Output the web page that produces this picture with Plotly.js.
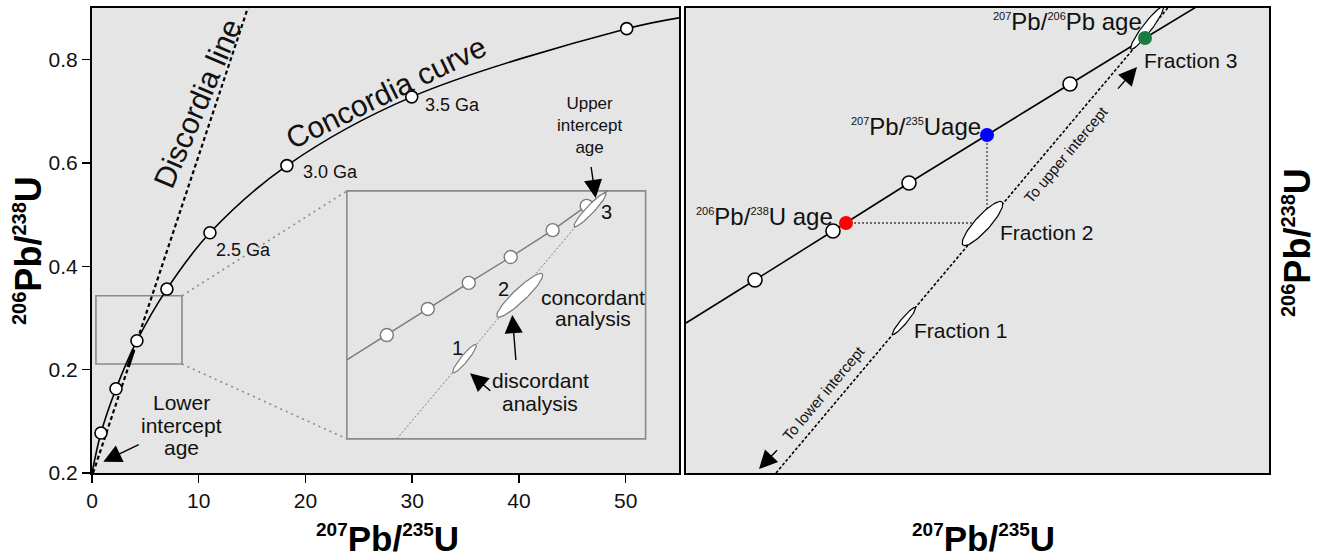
<!DOCTYPE html>
<html><head><meta charset="utf-8">
<script src="https://cdn.plot.ly/plotly-3.0.1.min.js"></script>
<style>html,body{margin:0;padding:0;background:#fff}#chart{width:1319px;height:560px}</style>
</head><body><div id="chart"></div>
<script>
// ================= DATA: left panel (207Pb/235U vs 206Pb/238U) =================
const concordiaX = [0, 0.84, 2.25, 4.21, 7.02, 11.05, 18.26, 29.96, 50.1, 55.0];
const concordiaY = [0, 0.0775, 0.163, 0.256, 0.356, 0.465, 0.595, 0.728, 0.860, 0.881];
const ageMarkX = [0.84, 2.25, 4.21, 7.02, 11.05, 18.26, 29.96, 50.1];
const ageMarkY = [0.0775, 0.163, 0.256, 0.356, 0.465, 0.595, 0.728, 0.860];
const ageLabels = ['2.5 Ga', '3.0 Ga', '3.5 Ga'];
const ageLabelX = [14.2, 22.3, 33.8];
const ageLabelY = [0.432, 0.583, 0.712];
const discordiaX = [0.1, 14.6];
const discordiaY = [0, 0.9];
const smallFracX = [3.38, 3.9];
const smallFracY = [0.205, 0.238];
const smallBoxX = [0.37, 8.43];
const smallBoxY = [0.211, 0.343];
const insetBoxX = [23.88, 51.87];
const insetBoxY = [0.066, 0.546];
const insetConcX = [23.88, 27.62, 31.46, 35.30, 39.23, 43.16, 46.35, 48.31];
const insetConcY = [0.219, 0.267, 0.3175, 0.368, 0.418, 0.470, 0.517, 0.546];
const insetMarkX = [27.62, 31.46, 35.30, 39.23, 43.16, 46.35];
const insetMarkY = [0.267, 0.3175, 0.368, 0.418, 0.470, 0.517];
const insetDiscX = [28.56, 48.13];
const insetDiscY = [0.066, 0.546];
const insetEllX1 = [33.82, 37.97, 45.19];
const insetEllY1 = [0.1942, 0.3026, 0.4769];
const insetEllX2 = [35.98, 42.19, 48.13];
const insetEllY2 = [0.2484, 0.3853, 0.5415];
const insetEllLabels = ['1', '2', '3'];
const insetEllLabelX = [34.29, 38.54, 48.22];
const insetEllLabelY = [0.242, 0.357, 0.5045];
const xTickVals = [0, 10, 20, 30, 40, 50];
const xTickText = ['0', '10', '20', '30', '40', '50'];
const yTickVals = [0, 0.2, 0.4, 0.6, 0.8];
const yTickText = ['0.2', '0.2', '0.4', '0.6', '0.8'];

// ================= DATA: right panel (schematic, arbitrary units) =================
const rConcX = [0, 69, 147, 223, 301, 384, 459, 525];
const rConcY = [150, 193, 242, 290, 338, 389, 435, 475];
const rMarkX = [69, 147, 223, 384];
const rMarkY = [193, 242, 290, 389];
const rAgeX = [160, 301, 459];      // 206/238 age, 207/235 age, 207/206 age
const rAgeY = [250, 338, 435];
const rDiscX = [90, 486];
const rDiscY = [0, 470];
const rEllX1 = [206.7, 277, 445];
const rEllY1 = [138.6, 228, 424];
const rEllX2 = [229.3, 316, 477];
const rEllY2 = [165.4, 271, 466];
const rFracLabels = ['Fraction 1', 'Fraction 2', 'Fraction 3'];
const rFracLabelX = [226, 312, 456];
const rFracLabelY = [143, 240, 412];

// ================= layout geometry / styles =================
const W = 1319, H = 560;
const LX0 = 92, LX1 = 679, RX0 = 686, RX1 = 1269, YT = 8, YB = 473;
const LXR = [0, 55], LYR = [0, 0.9], RXR = [0, 583], RYR = [0, 465];
const lkx = (LX1 - LX0) / (LXR[1] - LXR[0]), lky = (YB - YT) / (LYR[1] - LYR[0]);
const rkx = (RX1 - RX0) / (RXR[1] - RXR[0]), rky = (YB - YT) / (RYR[1] - RYR[0]);
const FONT = 'Liberation Sans, Arial, Helvetica, sans-serif';
const TXT = '#111111';
const BG = '#e5e5e5';
const GRAY = '#8a8a8a';
const insetEllW = [7, 13, 8];
const rEllW = [6, 15, 9];
const rAgeColors = ['#ff0000', '#0000ff', '#1b7a3e'];

function ellipse(x1, y1, x2, y2, wpx, kx, ky, xa, ya, col) {
  const X1 = x1 * kx, Y1 = y1 * ky, X2 = x2 * kx, Y2 = y2 * ky;
  const cx = (X1 + X2) / 2, cy = (Y1 + Y2) / 2;
  const a = Math.hypot(X2 - X1, Y2 - Y1) / 2, b = wpx / 2, th = Math.atan2(Y2 - Y1, X2 - X1);
  const xs = [], ys = [];
  for (let i = 0; i <= 80; i++) {
    const t = i / 80 * 2 * Math.PI, ex = a * Math.cos(t), ey = b * Math.sin(t);
    xs.push((cx + ex * Math.cos(th) - ey * Math.sin(th)) / kx);
    ys.push((cy + ex * Math.sin(th) + ey * Math.cos(th)) / ky);
  }
  return {type: 'scatter', mode: 'lines', x: xs, y: ys, xaxis: xa, yaxis: ya, fill: 'toself',
    fillcolor: '#ffffff', line: {color: col, width: 1.2}, hoverinfo: 'skip', showlegend: false};
}
function sup(t, px) { return '<sup><span style="font-size:' + px + 'px">' + t + '</span></sup>'; }

const traces = [];
// ---- left ----
traces.push({x: concordiaX, y: concordiaY, mode: 'lines', line: {color: '#000', width: 1.6, shape: 'spline'}, xaxis: 'x', yaxis: 'y'});
traces.push({x: discordiaX, y: discordiaY, mode: 'lines', line: {color: '#000', width: 2.2, dash: '4px,3px'}, xaxis: 'x', yaxis: 'y'});
traces.push({x: smallFracX, y: smallFracY, mode: 'lines', line: {color: '#000', width: 3.5}, xaxis: 'x', yaxis: 'y'});
traces.push({x: [smallBoxX[1], insetBoxX[0], null, smallBoxX[1], insetBoxX[0]],
             y: [smallBoxY[1], insetBoxY[1], null, smallBoxY[0], insetBoxY[0]],
             mode: 'lines', line: {color: GRAY, width: 1.6, dash: '2px,4px'}, xaxis: 'x', yaxis: 'y'});
traces.push({x: insetConcX, y: insetConcY, mode: 'lines', line: {color: '#7a7a7a', width: 1.4}, xaxis: 'x', yaxis: 'y'});
traces.push({x: insetDiscX, y: insetDiscY, mode: 'lines', line: {color: '#7a7a7a', width: 1, dash: '2px,2px'}, xaxis: 'x', yaxis: 'y'});
traces.push({x: insetMarkX, y: insetMarkY, mode: 'markers', marker: {size: 13, color: '#fff', line: {color: '#7a7a7a', width: 1.4}}, xaxis: 'x', yaxis: 'y'});
for (let i = 0; i < insetEllX1.length; i++)
  traces.push(ellipse(insetEllX1[i], insetEllY1[i], insetEllX2[i], insetEllY2[i], insetEllW[i], lkx, lky, 'x', 'y', '#7a7a7a'));
traces.push({x: ageMarkX, y: ageMarkY, mode: 'markers', marker: {size: 12, color: '#fff', line: {color: '#000', width: 1.6}}, xaxis: 'x', yaxis: 'y', cliponaxis: false});
// ---- right ----
traces.push({x: rConcX, y: rConcY, mode: 'lines', line: {color: '#000', width: 1.6, shape: 'spline'}, xaxis: 'x2', yaxis: 'y2'});
traces.push({x: rDiscX, y: rDiscY, mode: 'lines', line: {color: '#000', width: 1.6, dash: '3px,2px'}, xaxis: 'x2', yaxis: 'y2'});
traces.push({x: [rAgeX[0], rAgeX[1], null, rAgeX[1], rAgeX[1]], y: [rAgeY[0], rAgeY[0], null, rAgeY[1], rAgeY[0]],
             mode: 'lines', line: {color: '#444', width: 1.3, dash: '2px,2px'}, xaxis: 'x2', yaxis: 'y2'});
for (let i = 0; i < rEllX1.length; i++)
  traces.push(ellipse(rEllX1[i], rEllY1[i], rEllX2[i], rEllY2[i], rEllW[i], rkx, rky, 'x2', 'y2', '#000'));
traces.push({x: rMarkX, y: rMarkY, mode: 'markers', marker: {size: 14, color: '#fff', line: {color: '#000', width: 1.6}}, xaxis: 'x2', yaxis: 'y2'});
traces.push({x: rAgeX, y: rAgeY, mode: 'markers', marker: {size: 14, color: rAgeColors, line: {color: rAgeColors, width: 0}}, xaxis: 'x2', yaxis: 'y2'});
traces.forEach(t => { t.type = 'scatter'; t.showlegend = false; t.hoverinfo = 'skip'; });

const ann = [];
function txt(xr, yr, x, y, text, size, opts) {
  ann.push(Object.assign({xref: xr, yref: yr, x: x, y: y, text: text, showarrow: false,
    font: {family: FONT, size: size, color: TXT}, xanchor: 'center', yanchor: 'middle'}, opts || {}));
}
function arrow(xr, yr, hx, hy, tx, ty) {
  ann.push({xref: xr, yref: yr, axref: xr, ayref: yr, x: hx, y: hy, ax: tx, ay: ty, text: ' ',
    showarrow: true, arrowhead: 2, arrowsize: 2.6, arrowwidth: 1.4, arrowcolor: '#000', standoff: 0});
}
// left texts
txt('x', 'y', 27.55, 0.7355, 'Concordia curve', 30, {textangle: -26});
txt('x', 'y', 9.85, 0.716, 'Discordia line', 30, {textangle: -67});
for (let i = 0; i < ageLabels.length; i++) txt('x', 'y', ageLabelX[i], ageLabelY[i], ageLabels[i], 18);
txt('x', 'y', 46.66, 0.6735, 'Upper<br>intercept<br>age', 17);
arrow('x', 'y', 47.19, 0.5323, 46.63, 0.6116);
txt('x', 'y', 8.43, 0.1374, 'Lower', 21);
txt('x', 'y', 8.43, 0.0929, 'intercept', 21);
txt('x', 'y', 8.43, 0.0484, 'age', 21);
arrow('x', 'y', 1.06, 0.0219, 4.655, 0.0575);
for (let i = 0; i < insetEllLabels.length; i++) txt('x', 'y', insetEllLabelX[i], insetEllLabelY[i], insetEllLabels[i], 20);
txt('x', 'y', 46.9, 0.3406, 'concordant', 21);
txt('x', 'y', 46.9, 0.2994, 'analysis', 21);
arrow('x', 'y', 39.38, 0.3058, 39.79, 0.1994);
txt('x', 'y', 42.02, 0.18, 'discordant', 21);
txt('x', 'y', 42.02, 0.1349, 'analysis', 21);
arrow('x', 'y', 35.42, 0.193, 37.6, 0.1543);
// right texts
txt('x2', 'y2', 149, 256, sup('206', 11) + 'Pb/' + sup('238', 11) + 'U age', 24, {xanchor: 'right'});
txt('x2', 'y2', 297, 346, sup('207', 11) + 'Pb/' + sup('235', 11) + 'Uage', 24, {xanchor: 'right'});
txt('x2', 'y2', 458, 451, sup('207', 11) + 'Pb/' + sup('206', 11) + 'Pb age', 24, {xanchor: 'right'});
for (let i = 0; i < rFracLabels.length; i++) txt('x2', 'y2', rFracLabelX[i], rFracLabelY[i], rFracLabels[i], 21, {xanchor: 'left'});
txt('x2', 'y2', 380, 318, 'To upper intercept', 15, {textangle: -50});
arrow('x2', 'y2', 451, 406, 429, 381);
txt('x2', 'y2', 137, 80, 'To lower intercept', 15, {textangle: -50});
arrow('x2', 'y2', 73, 4, 94, 26);
// axis titles
const xTitle = '<b>' + sup('207', 19) + 'Pb/' + sup('235', 19) + 'U</b>';
const yTitle = '<b>' + sup('206', 20) + 'Pb/' + sup('238', 20) + 'U</b>';
const titleFontX = {family: 'Liberation Sans, Arial, sans-serif', size: 35, color: '#000'};
const titleFontY = {family: 'Liberation Sans, Arial, sans-serif', size: 36, color: '#000'};
ann.push({xref: 'paper', yref: 'paper', x: 387 / W, y: 1 - 538 / H, text: xTitle, showarrow: false, font: titleFontX, xanchor: 'center', yanchor: 'middle'});
ann.push({xref: 'paper', yref: 'paper', x: 983 / W, y: 1 - 538 / H, text: xTitle, showarrow: false, font: titleFontX, xanchor: 'center', yanchor: 'middle'});
ann.push({xref: 'paper', yref: 'paper', x: 29 / W, y: 1 - 251 / H, text: yTitle, showarrow: false, font: titleFontY, xanchor: 'center', yanchor: 'middle', textangle: -90});
ann.push({xref: 'paper', yref: 'paper', x: 1297 / W, y: 1 - 243 / H, text: yTitle, showarrow: false, font: titleFontY, xanchor: 'center', yanchor: 'middle', textangle: -90});

const axBase = {showgrid: false, zeroline: false, showline: true, linecolor: '#000', linewidth: 2, mirror: true};
const layout = {
  width: W, height: H, margin: {l: 0, r: 0, t: 0, b: 0}, paper_bgcolor: '#fff', plot_bgcolor: BG,
  showlegend: false,
  xaxis: Object.assign({}, axBase, {domain: [LX0 / W, LX1 / W], range: LXR, anchor: 'y', ticks: 'outside', ticklen: 8, tickwidth: 1.5, tickcolor: '#000',
    tickvals: xTickVals, ticktext: xTickText, tickfont: {family: FONT, size: 21, color: TXT}}),
  yaxis: Object.assign({}, axBase, {domain: [1 - YB / H, 1 - YT / H], range: LYR, anchor: 'x', ticks: 'outside', ticklen: 8, tickwidth: 1.5, tickcolor: '#000',
    tickvals: yTickVals, ticktext: yTickText, tickfont: {family: FONT, size: 21, color: TXT}}),
  xaxis2: Object.assign({}, axBase, {domain: [RX0 / W, RX1 / W], range: RXR, anchor: 'y2', showticklabels: false, ticks: ''}),
  yaxis2: Object.assign({}, axBase, {domain: [1 - YB / H, 1 - YT / H], range: RYR, anchor: 'x2', showticklabels: false, ticks: ''}),
  shapes: [
    {type: 'rect', xref: 'x', yref: 'y', x0: smallBoxX[0], x1: smallBoxX[1], y0: smallBoxY[0], y1: smallBoxY[1], line: {color: GRAY, width: 1.6}, layer: 'below'},
    {type: 'rect', xref: 'x', yref: 'y', x0: insetBoxX[0], x1: insetBoxX[1], y0: insetBoxY[0], y1: insetBoxY[1], line: {color: GRAY, width: 1.6}, layer: 'below'}
  ],
  annotations: ann
};
Plotly.newPlot('chart', traces, layout, {staticPlot: true, displayModeBar: false});
</script></body></html>
